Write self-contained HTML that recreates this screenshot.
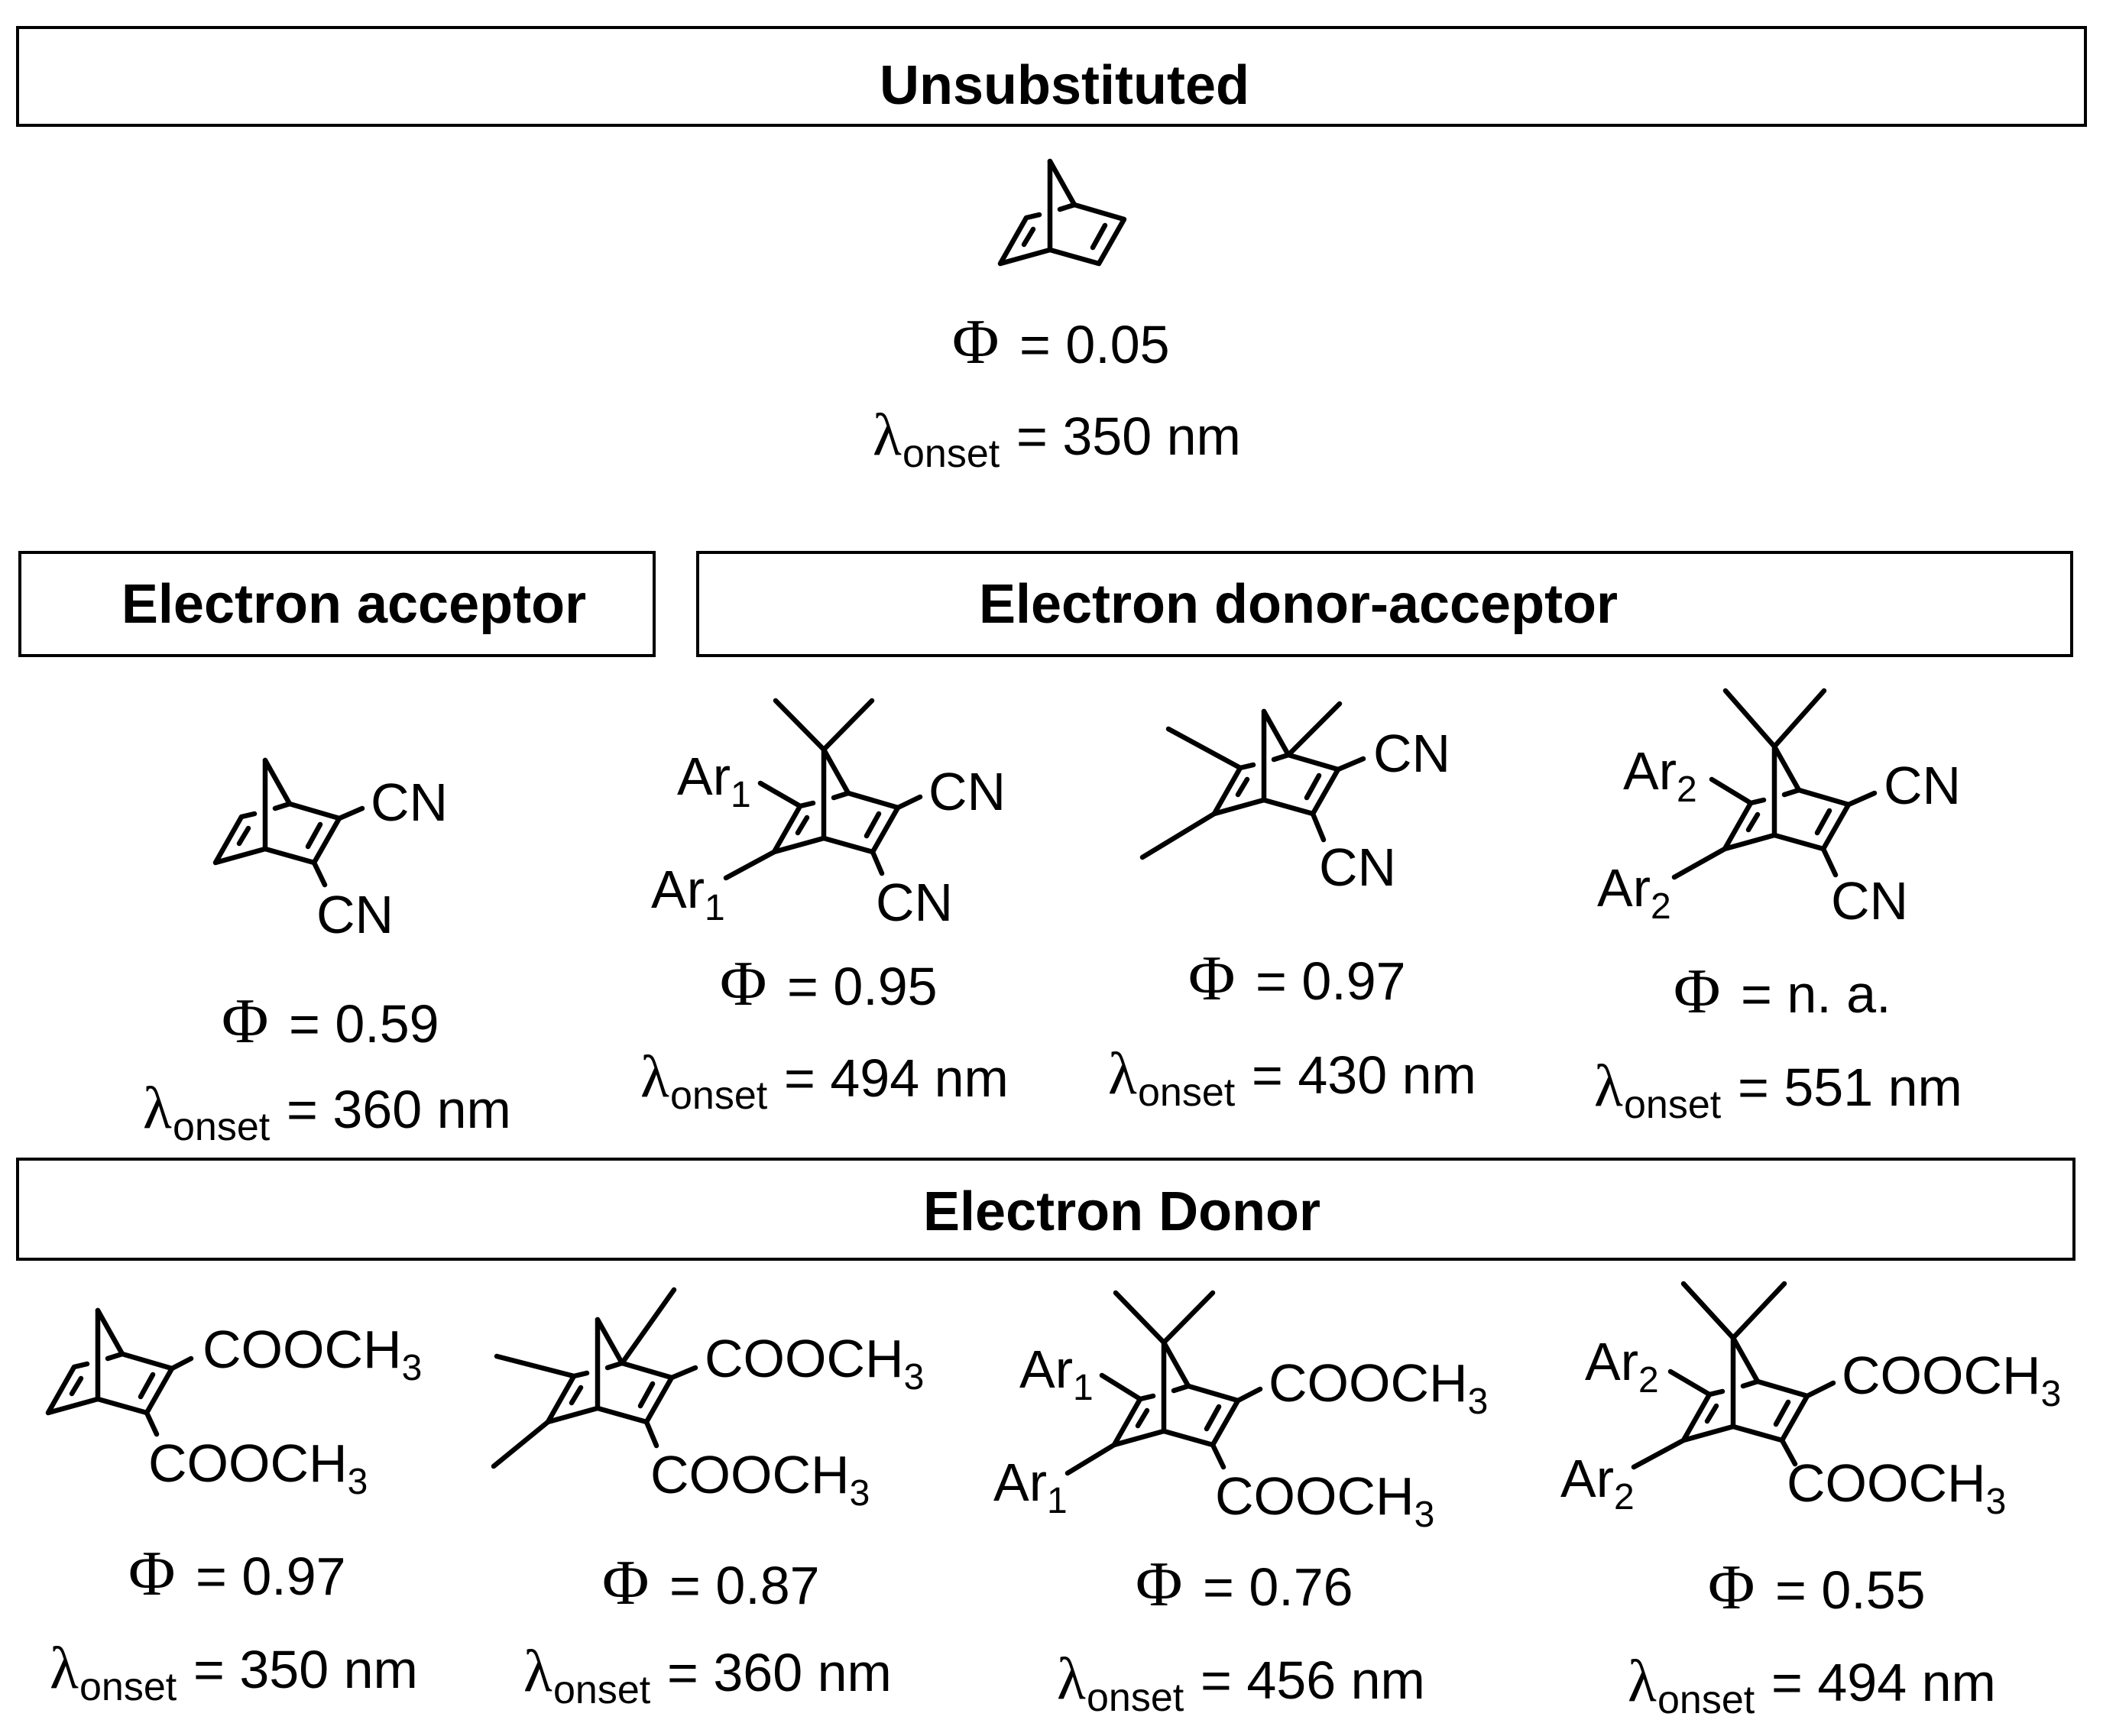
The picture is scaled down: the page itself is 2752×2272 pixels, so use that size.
<!DOCTYPE html>
<html><head><meta charset="utf-8"><style>
html,body{margin:0;padding:0;background:#fff;}
svg{display:block;}
text{font-family:"Liberation Sans",Arial,sans-serif;fill:#000;}
.h{font-weight:bold;font-size:72px;}
.lab{font-size:70px;}
.sv{font-family:"Liberation Serif","Times New Roman",serif;}
</style></head><body>
<svg width="2752" height="2272" viewBox="0 0 2752 2272" xmlns="http://www.w3.org/2000/svg">
<defs>
<g id="core" fill="none" stroke="#000" stroke-width="6.5" stroke-linecap="round" stroke-linejoin="round">
<line x1="0" y1="-116" x2="0" y2="0"/>
<line x1="0" y1="-116" x2="32" y2="-59"/>
<polyline points="32,-59 97,-40 64,18 0,0 -65,18 -31,-42 -14,-46"/>
<line x1="13" y1="-53" x2="32" y2="-59"/>
<line x1="-22" y1="-27" x2="-34" y2="-7"/>
<line x1="72" y1="-32" x2="56" y2="-3"/>
</g>
</defs>
<g fill="none" stroke="#000" stroke-width="4">
<rect x="23" y="36" width="2706" height="128"/>
<rect x="26" y="723" width="830" height="135"/>
<rect x="913" y="723" width="1798" height="135"/>
<rect x="23" y="1517" width="2691" height="131"/>
</g>
<text class="h" x="1393" y="136" text-anchor="middle">Unsubstituted</text>
<text class="h" x="463" y="815" text-anchor="middle">Electron acceptor</text>
<text class="h" x="1699" y="815" text-anchor="middle">Electron donor-acceptor</text>
<text class="h" x="1208" y="1610">Electron Donor</text>

<use href="#core" x="1374" y="327"/>
<use href="#core" x="347" y="1111"/>
<use href="#core" x="1078" y="1097"/>
<use href="#core" x="1654" y="1047"/>
<use href="#core" x="2322" y="1093"/>
<use href="#core" x="128" y="1831"/>
<use href="#core" x="782" y="1843"/>
<use href="#core" x="1523" y="1873"/>
<use href="#core" x="2268" y="1867"/>

<g stroke="#000" stroke-width="6.5" stroke-linecap="round" fill="none">
<line x1="444" y1="1071" x2="474" y2="1058"/>
<line x1="411" y1="1129" x2="425" y2="1158"/>
<line x1="1078" y1="981" x2="1015" y2="917"/>
<line x1="1078" y1="981" x2="1141" y2="917"/>
<line x1="1047" y1="1055" x2="995" y2="1025"/>
<line x1="1013" y1="1115" x2="950" y2="1149"/>
<line x1="1175" y1="1057" x2="1204" y2="1043"/>
<line x1="1142" y1="1115" x2="1154" y2="1143"/>
<line x1="1623" y1="1005" x2="1529" y2="954"/>
<line x1="1589" y1="1065" x2="1495" y2="1122"/>
<line x1="1686" y1="988" x2="1753" y2="921"/>
<line x1="1751" y1="1007" x2="1784" y2="993"/>
<line x1="1718" y1="1065" x2="1732" y2="1099"/>
<line x1="2322" y1="977" x2="2258" y2="904"/>
<line x1="2322" y1="977" x2="2387" y2="904"/>
<line x1="2291" y1="1051" x2="2240" y2="1020"/>
<line x1="2257" y1="1111" x2="2191" y2="1148"/>
<line x1="2419" y1="1053" x2="2453" y2="1038"/>
<line x1="2386" y1="1111" x2="2402" y2="1145"/>
<line x1="225" y1="1791" x2="250" y2="1778"/>
<line x1="192" y1="1849" x2="205" y2="1877"/>
<line x1="751" y1="1801" x2="650" y2="1775"/>
<line x1="717" y1="1861" x2="646" y2="1919"/>
<line x1="814" y1="1784" x2="882" y2="1688"/>
<line x1="879" y1="1803" x2="910" y2="1790"/>
<line x1="846" y1="1861" x2="859" y2="1892"/>
<line x1="1523" y1="1757" x2="1460" y2="1692"/>
<line x1="1523" y1="1757" x2="1587" y2="1692"/>
<line x1="1492" y1="1831" x2="1442" y2="1800"/>
<line x1="1458" y1="1891" x2="1397" y2="1928"/>
<line x1="1620" y1="1833" x2="1649" y2="1818"/>
<line x1="1587" y1="1891" x2="1601" y2="1920"/>
<line x1="2268" y1="1751" x2="2203" y2="1680"/>
<line x1="2268" y1="1751" x2="2335" y2="1680"/>
<line x1="2237" y1="1825" x2="2186" y2="1795"/>
<line x1="2203" y1="1885" x2="2138" y2="1920"/>
<line x1="2365" y1="1827" x2="2399" y2="1810"/>
<line x1="2332" y1="1885" x2="2349" y2="1916"/>
</g>

<g class="lab">
<text class="lab" x="485" y="1074">CN</text>
<text class="lab" x="414" y="1221">CN</text>
<text class="lab" x="886" y="1040">Ar<tspan dy="16" font-size="48">1</tspan></text>
<text class="lab" x="852" y="1188">Ar<tspan dy="16" font-size="48">1</tspan></text>
<text class="lab" x="1215" y="1060">CN</text>
<text class="lab" x="1146" y="1205">CN</text>
<text class="lab" x="1797" y="1010">CN</text>
<text class="lab" x="1726" y="1159">CN</text>
<text class="lab" x="2124" y="1033">Ar<tspan dy="16" font-size="48">2</tspan></text>
<text class="lab" x="2090" y="1186">Ar<tspan dy="16" font-size="48">2</tspan></text>
<text class="lab" x="2465" y="1052">CN</text>
<text class="lab" x="2396" y="1203">CN</text>
<text class="lab" x="265" y="1790">COOCH<tspan dy="16" font-size="48">3</tspan></text>
<text class="lab" x="194" y="1939">COOCH<tspan dy="16" font-size="48">3</tspan></text>
<text class="lab" x="922" y="1802">COOCH<tspan dy="16" font-size="48">3</tspan></text>
<text class="lab" x="851" y="1954">COOCH<tspan dy="16" font-size="48">3</tspan></text>
<text class="lab" x="1334" y="1816">Ar<tspan dy="16" font-size="48">1</tspan></text>
<text class="lab" x="1300" y="1964">Ar<tspan dy="16" font-size="48">1</tspan></text>
<text class="lab" x="1660" y="1834">COOCH<tspan dy="16" font-size="48">3</tspan></text>
<text class="lab" x="1590" y="1982">COOCH<tspan dy="16" font-size="48">3</tspan></text>
<text class="lab" x="2074" y="1806">Ar<tspan dy="16" font-size="48">2</tspan></text>
<text class="lab" x="2042" y="1959">Ar<tspan dy="16" font-size="48">2</tspan></text>
<text class="lab" x="2410" y="1824">COOCH<tspan dy="16" font-size="48">3</tspan></text>
<text class="lab" x="2338" y="1965">COOCH<tspan dy="16" font-size="48">3</tspan></text>
</g>

<text x="1246" y="475" font-size="70"><tspan class="sv" font-size="84">Φ</tspan><tspan x="1334">= 0.05</tspan></text>
<text x="290" y="1364" font-size="70"><tspan class="sv" font-size="84">Φ</tspan><tspan x="378">= 0.59</tspan></text>
<text x="942" y="1315" font-size="70"><tspan class="sv" font-size="84">Φ</tspan><tspan x="1030">= 0.95</tspan></text>
<text x="1555" y="1308" font-size="70"><tspan class="sv" font-size="84">Φ</tspan><tspan x="1643">= 0.97</tspan></text>
<text x="2190" y="1325" font-size="70"><tspan class="sv" font-size="84">Φ</tspan><tspan x="2278">= n. a.</tspan></text>
<text x="168" y="2087" font-size="70"><tspan class="sv" font-size="84">Φ</tspan><tspan x="256">= 0.97</tspan></text>
<text x="788" y="2099" font-size="70"><tspan class="sv" font-size="84">Φ</tspan><tspan x="876">= 0.87</tspan></text>
<text x="1486" y="2101" font-size="70"><tspan class="sv" font-size="84">Φ</tspan><tspan x="1574">= 0.76</tspan></text>
<text x="2235" y="2105" font-size="70"><tspan class="sv" font-size="84">Φ</tspan><tspan x="2323">= 0.55</tspan></text>

<text x="1142" y="595" font-size="70"><tspan class="sv" font-size="78">λ</tspan><tspan x="1181" dy="16" font-size="52">onset</tspan><tspan x="1330" dy="-16">= 350 nm</tspan></text>
<text x="187" y="1476" font-size="70"><tspan class="sv" font-size="78">λ</tspan><tspan x="226" dy="16" font-size="52">onset</tspan><tspan x="375" dy="-16">= 360 nm</tspan></text>
<text x="838" y="1435" font-size="70"><tspan class="sv" font-size="78">λ</tspan><tspan x="877" dy="16" font-size="52">onset</tspan><tspan x="1026" dy="-16">= 494 nm</tspan></text>
<text x="1450" y="1431" font-size="70"><tspan class="sv" font-size="78">λ</tspan><tspan x="1489" dy="16" font-size="52">onset</tspan><tspan x="1638" dy="-16">= 430 nm</tspan></text>
<text x="2086" y="1447" font-size="70"><tspan class="sv" font-size="78">λ</tspan><tspan x="2125" dy="16" font-size="52">onset</tspan><tspan x="2274" dy="-16">= 551 nm</tspan></text>
<text x="65" y="2209" font-size="70"><tspan class="sv" font-size="78">λ</tspan><tspan x="104" dy="16" font-size="52">onset</tspan><tspan x="253" dy="-16">= 350 nm</tspan></text>
<text x="685" y="2213" font-size="70"><tspan class="sv" font-size="78">λ</tspan><tspan x="724" dy="16" font-size="52">onset</tspan><tspan x="873" dy="-16">= 360 nm</tspan></text>
<text x="1383" y="2223" font-size="70"><tspan class="sv" font-size="78">λ</tspan><tspan x="1422" dy="16" font-size="52">onset</tspan><tspan x="1571" dy="-16">= 456 nm</tspan></text>
<text x="2130" y="2226" font-size="70"><tspan class="sv" font-size="78">λ</tspan><tspan x="2169" dy="16" font-size="52">onset</tspan><tspan x="2318" dy="-16">= 494 nm</tspan></text>
</svg>
</body></html>
